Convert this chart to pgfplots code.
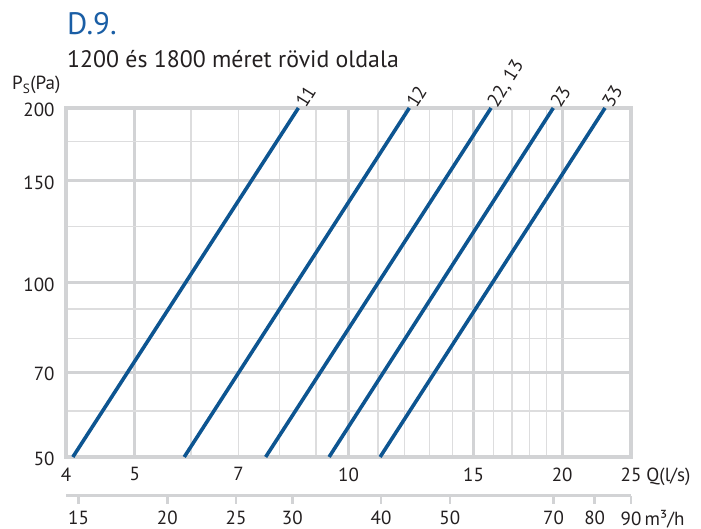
\documentclass[border=0pt]{standalone}
\usepackage{pgfplots}
\pgfplotsset{compat=1.18}
\usepackage{fontspec}
\setmainfont{PT Sans}
\definecolor{gridmaj}{HTML}{D2D3D5}
\definecolor{gridmin}{HTML}{DDDDDE}
\definecolor{curve}{HTML}{0D5591}
\definecolor{titleblue}{HTML}{1A5EA5}
\definecolor{txt}{HTML}{231F20}

\begin{document}
\begin{tikzpicture}[font=\fontsize{19}{22}\selectfont, text=txt]
% canvas: 1px = 1pt, axis box at (0,0)-(565,349)
\path[use as bounding box] (-66pt,-72pt) rectangle (635pt,457pt);

\begin{axis}[
  at={(0,0)}, anchor=south west,
  scale only axis, width=565pt, height=349pt,
  xmode=log, ymode=log,
  xmin=4, xmax=25, ymin=50, ymax=200,
  xtick={5,10,15,20}, xticklabels={},
  minor xtick={6,7,8,9,11,12,13,14,16,17,18,19},
  ytick={70,100,150}, yticklabels={},
  minor ytick={60,80,90,125,175},
  grid=both,
  major grid style={draw=gridmaj, line width=3pt},
  minor grid style={draw=gridmin, line width=1.3pt},
  axis line style={draw=gridmaj, line width=3.5pt},
  major tick length=0pt, minor tick length=0pt,
  extra x ticks={4,5,7,10,15,20,25},
  extra x tick labels={4,5,7,10,15,20,25\rlap{ Q(l/s)}},
  extra y ticks={50,70,100,150,200},
  extra y tick labels={50,70,100,150,200},
  extra tick style={grid=none, major tick length=0pt},
  xticklabel style={yshift=-7pt, text=txt},
  yticklabel style={xshift=-8pt, yshift=-2pt, text=txt},
  clip=false,
]
\addplot[curve, line width=3.6pt] coordinates {(4.09,50) (8.50,200)};
\addplot[curve, line width=3.6pt] coordinates {(5.87,50) (12.18,200)};
\addplot[curve, line width=3.6pt] coordinates {(7.645,50) (15.88,200)};
\addplot[curve, line width=3.6pt] coordinates {(9.39,50) (19.43,200)};
\addplot[curve, line width=3.6pt] coordinates {(11.08,50) (22.98,200)};
\coordinate (l11) at (axis cs:8.50,200);
\coordinate (l12) at (axis cs:12.18,200);
\coordinate (l13) at (axis cs:15.88,200);
\coordinate (l23) at (axis cs:19.43,200);
\coordinate (l33) at (axis cs:22.98,200);
\end{axis}

% secondary scale in m3/h
\begin{axis}[
  at={(0,-39pt)}, anchor=south west,
  scale only axis, width=565pt, height=10pt,
  xmode=log, xmin=14.4, xmax=90, ymin=0, ymax=1,
  axis x line*=bottom, axis y line=none,
  x axis line style={-, draw=gridmaj, line width=3pt},
  xtick={15,20,25,30,40,50,70,80,90},
  xticklabels={15,20,25,30,40,50,70,80,90\rlap{\,m³/h}},
  minor xtick={},
  tick align=outside, major tick length=8pt,
  x tick style={draw=gridmaj, line width=2.5pt},
  xticklabel style={yshift=-3pt, text=txt},
]
\addplot[draw=none] coordinates {(20,0.5)};
\end{axis}

\begin{scope}[every node/.style={anchor=west, rotate=58, inner sep=3pt}]
\node[text=black] at (l11) {\color{txt}11};
\node[text=black] at (l12) {\color{txt}12};
\node[text=black] at (l13) {\color{txt}22, 13};
\node[text=black] at (l23) {\color{txt}23};
\node[text=black] at (l33) {\color{txt}33};
\end{scope}

\node[anchor=base west, inner sep=0pt, text=titleblue, font=\fontsize{31}{34}\selectfont] at (1pt,422pt) {D.9.};
\node[anchor=base west, inner sep=0pt, font=\fontsize{23.8}{27}\selectfont] at (1pt,389pt) {1200 és 1800 méret rövid oldala};
\node[anchor=base west, inner sep=0pt] at (-54pt,367pt) {P\textsubscript{S}(Pa)};
\end{tikzpicture}
\end{document}
